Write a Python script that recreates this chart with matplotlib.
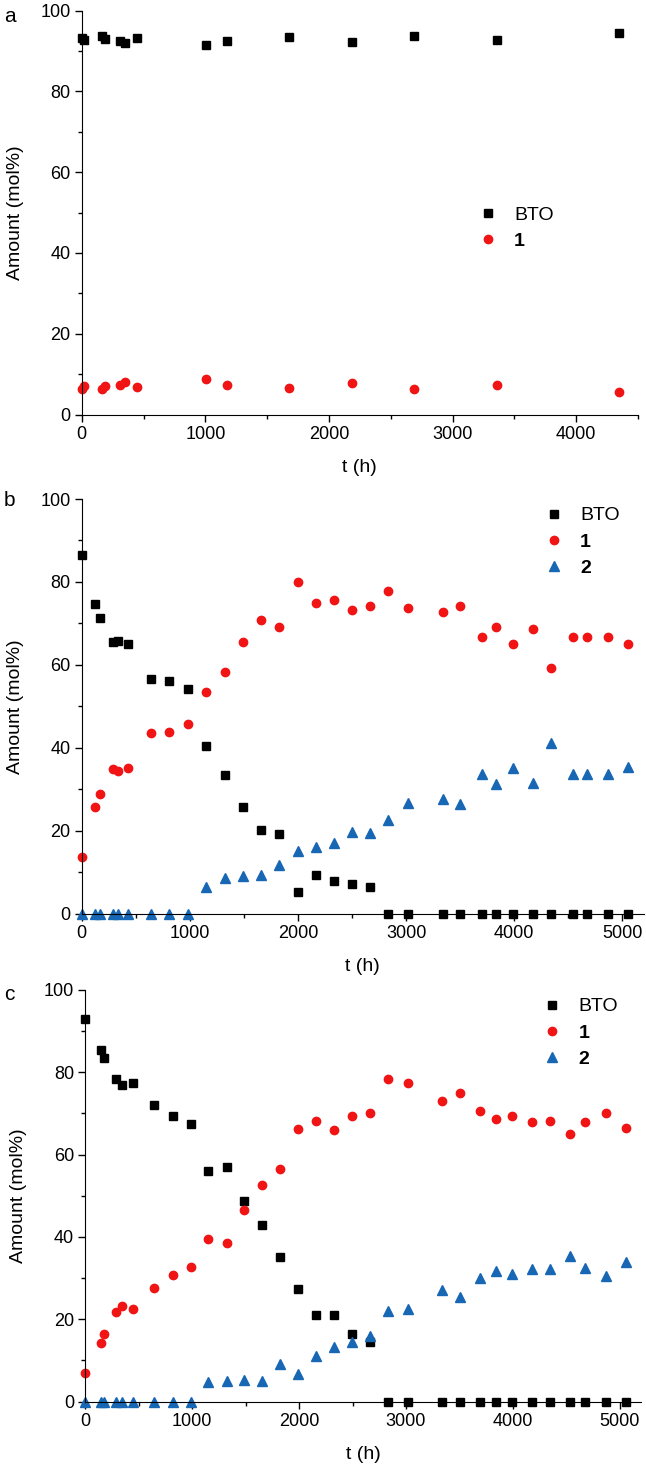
import matplotlib
matplotlib.use('Agg')
import matplotlib.pyplot as plt
from matplotlib.ticker import MultipleLocator

plt.rcParams['font.family'] = ['Liberation Sans', 'DejaVu Sans']

# --- panel a ---
a_t = [0, 20, 168, 185, 312, 353, 450, 1004, 1172, 1679, 2186, 2686, 3361, 4345]
a_bto = [93.3, 92.7, 93.7, 92.9, 92.5, 91.9, 93.1, 91.5, 92.5, 93.5, 92.1, 93.6, 92.7, 94.5]
a_1 = [6.4, 7.0, 6.2, 7.0, 7.4, 8.1, 6.8, 8.7, 7.4, 6.5, 7.8, 6.4, 7.2, 5.5]

# --- panel b ---
b_t = [0, 126, 168, 289, 339, 430, 644, 811, 986, 1154, 1325, 1493, 1660, 1828,
       1999, 2167, 2334, 2498, 2669, 2831, 3016, 3339, 3502, 3699, 3832, 3986,
       4170, 4340, 4539, 4672, 4869, 5056]
b_bto = [86.4, 74.6, 71.4, 65.4, 65.8, 65.0, 56.6, 56.2, 54.2, 40.5, 33.4, 25.8, 20.2, 19.3,
         5.2, 9.3, 7.8, 7.2, 6.4, 0, 0, 0, 0, 0, 0, 0,
         0, 0, 0, 0, 0, 0]
b_1 = [13.6, 25.7, 28.9, 34.8, 34.4, 35.2, 43.5, 43.9, 45.8, 53.4, 58.3, 65.4, 70.9, 69.1,
       80.0, 74.9, 75.6, 73.3, 74.2, 77.8, 73.6, 72.7, 74.1, 66.7, 69.1, 65.0,
       68.7, 59.2, 66.7, 66.7, 66.7, 65.0]
b_2 = [0, 0, 0, 0, 0, 0, 0, 0, 0, 6.4, 8.6, 9.0, 9.2, 11.8,
       15.1, 16.1, 16.9, 19.7, 19.5, 22.5, 26.6, 27.6, 26.4, 33.6, 31.2, 35.1,
       31.6, 41.1, 33.6, 33.6, 33.6, 35.4]

# --- panel c ---
c_t = [0, 150, 173, 292, 342, 446, 646, 819, 988, 1154, 1323, 1488, 1658, 1823,
       1994, 2162, 2331, 2494, 2664, 2831, 3019, 3338, 3508, 3696, 3842, 3988,
       4179, 4342, 4535, 4677, 4867, 5058]
c_bto = [92.9, 85.5, 83.4, 78.3, 76.8, 77.5, 72.1, 69.3, 67.5, 56.1, 56.9, 48.7, 42.9, 35.1,
         27.3, 21.1, 21.1, 16.4, 14.5, 0, 0, 0, 0, 0, 0, 0,
         0, 0, 0, 0, 0, 0]
c_1 = [6.9, 14.3, 16.4, 21.7, 23.1, 22.4, 27.7, 30.8, 32.6, 39.6, 38.5, 46.6, 52.6, 56.4,
       66.3, 68.1, 66.0, 69.3, 70.2, 78.3, 77.5, 73.1, 74.9, 70.5, 68.7, 69.4,
       68.0, 68.2, 65.0, 67.9, 70.0, 66.4]
c_2 = [0, 0, 0, 0, 0, 0, 0, 0, 0, 4.7, 5.0, 5.3, 5.1, 9.0,
       6.8, 11.0, 13.3, 14.5, 15.9, 22.0, 22.6, 27.2, 25.4, 29.9, 31.7, 31.0,
       32.3, 32.1, 35.3, 32.4, 30.4, 33.9]

RED = '#f01414'
BLUE = '#1767b4'


def style_axes(ax, xmax):
    ax.set_xlim(0, xmax)
    ax.set_ylim(0, 100)
    ax.spines['top'].set_visible(False)
    ax.spines['right'].set_visible(False)
    ax.xaxis.set_major_locator(MultipleLocator(1000))
    ax.xaxis.set_minor_locator(MultipleLocator(500))
    ax.yaxis.set_major_locator(MultipleLocator(20))
    ax.yaxis.set_minor_locator(MultipleLocator(10))
    ax.tick_params(which='major', direction='out', length=5, width=1, labelsize=13, pad=3)
    ax.tick_params(which='minor', direction='out', length=3, width=1)
    ax.set_xlabel('t (h)', fontsize=14, labelpad=12)
    ax.set_ylabel('Amount (mol%)', fontsize=14, labelpad=12)


fig = plt.figure(figsize=(6.46, 14.72), dpi=100)

# пиксельные позиции осей -> доли фигуры
W, H = 646.0, 1472.0
ax_a = fig.add_axes([81.7 / W, 1 - 414.5 / H, (638 - 81.7) / W, 404 / H])
ax_b = fig.add_axes([81.7 / W, 1 - 913.5 / H, (644 - 81.7) / W, 414.5 / H])
ax_c = fig.add_axes([85 / W, 1 - 1401.5 / H, (641.4 - 85) / W, 411.5 / H])

mk = dict(linestyle='none', clip_on=False)

ax_a.plot(a_t, a_bto, marker='s', color='black', markersize=5.5, label='BTO', **mk)
ax_a.plot(a_t, a_1, marker='o', color=RED, markersize=6, label='1', **mk)
style_axes(ax_a, 4500)

for ax, t, bto, p1, p2 in [(ax_b, b_t, b_bto, b_1, b_2), (ax_c, c_t, c_bto, c_1, c_2)]:
    ax.plot(t, bto, marker='s', color='black', markersize=5.5, label='BTO', **mk)
    ax.plot(t, p1, marker='o', color=RED, markersize=6, label='1', **mk)
    ax.plot(t, p2, marker='^', color=BLUE, markersize=6.5, label='2', **mk)
    style_axes(ax, 5200)

# буквы панелей
for letter, ypx in [('a', 16), ('b', 500), ('c', 995)]:
    fig.text(4 / W, 1 - ypx / H, letter, fontsize=15, va='center', ha='left')

legend_pos = {ax_a: (0.69, 0.535), ax_b: (0.80, 1.0), ax_c: (0.80, 1.0)}
for ax, pos in legend_pos.items():
    leg = ax.legend(loc='upper left', bbox_to_anchor=pos, frameon=False, fontsize=14,
                    handletextpad=0.6, labelspacing=0.45, borderaxespad=0, handlelength=1.5)
    for txt in leg.get_texts():
        if txt.get_text() != 'BTO':
            txt.set_fontweight('bold')

fig.savefig('out.png', dpi=100)
plt.close(fig)
